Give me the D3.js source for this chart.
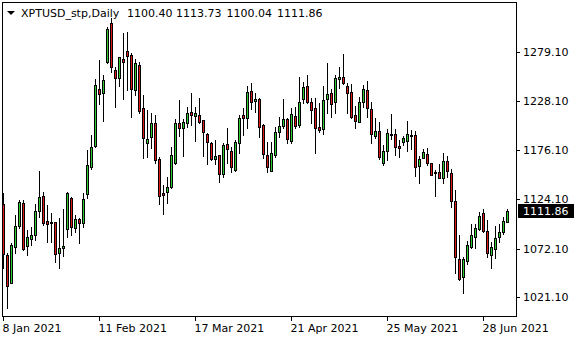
<!DOCTYPE html>
<html>
<head>
<meta charset="utf-8">
<script src="https://cdn.jsdelivr.net/npm/d3@7"></script>
<style>
    body { margin: 0; background: #ffffff; }
    svg { display: block; }
    text { font-family: "DejaVu Sans", sans-serif; font-size: 11px; }
</style>
</head>
<body>
<div id="chart"></div>
<script>
//*************************0. Data (XPTUSD daily, 8 Jan 2021 -> early Jul 2021)

const symbolTitle = "XPTUSD_stp,Daily"
const lastBarValues = ["1100.40", "1113.73", "1100.04", "1111.86"]
const lastPrice = 1111.86

const openPrices = [
    1119.37, 1065.66, 1036.53, 1074.44, 1096.20, 1120.77, 1075.14, 1082.86, 1086.37, 1112.00,
    1127.79, 1101.47, 1100.41, 1100.41, 1067.42, 1072.68, 1092.69, 1125.33, 1094.45, 1103.22,
    1099.01, 1129.55, 1157.98, 1180.44, 1240.11, 1235.90, 1268.89, 1309.61, 1260.47, 1251.69,
    1271.70, 1280.13, 1275.91, 1239.41, 1265.73, 1220.10, 1183.25, 1189.57, 1204.31, 1166.40,
    1130.60, 1132.35, 1137.62, 1162.19, 1204.31, 1199.04, 1204.31, 1215.89, 1212.38, 1213.08,
    1207.82, 1192.73, 1183.25, 1167.10, 1170.96, 1150.61, 1182.20, 1175.18, 1155.17, 1183.95,
    1213.08, 1209.57, 1238.36, 1228.18, 1229.58, 1202.55, 1170.96, 1154.47, 1170.96, 1194.83,
    1201.50, 1208.87, 1185.71, 1212.03, 1202.55, 1229.93, 1243.62, 1226.42, 1220.10, 1200.10,
    1197.99, 1229.58, 1235.90, 1227.12, 1250.64, 1252.75, 1243.62, 1236.95, 1213.08, 1206.06,
    1227.12, 1239.41, 1219.40, 1191.32, 1196.24, 1162.89, 1175.53, 1192.02, 1192.73, 1180.79,
    1184.30, 1186.06, 1192.02, 1191.67, 1159.73, 1168.16, 1172.02, 1162.19, 1152.71, 1152.71,
    1146.39, 1164.65, 1151.66, 1122.53, 1061.45, 1042.85, 1059.70, 1073.74, 1084.27, 1093.04,
    1109.54, 1090.94, 1065.66, 1071.63, 1084.27, 1089.53, 1100.40
]

const highPrices = [
    1130.60, 1067.42, 1077.95, 1107.78, 1123.58, 1123.58, 1091.99, 1095.50, 1119.37, 1154.12,
    1132.35, 1118.31, 1109.54, 1100.76, 1104.27, 1113.75, 1132.35, 1127.09, 1107.78, 1104.27,
    1130.60, 1176.23, 1192.02, 1250.99, 1271.00, 1255.20, 1306.10, 1314.87, 1263.98, 1274.51,
    1299.08, 1300.83, 1278.02, 1271.70, 1269.24, 1234.14, 1218.35, 1214.84, 1213.08, 1169.21,
    1139.37, 1148.15, 1179.74, 1208.52, 1228.88, 1208.52, 1221.16, 1235.90, 1221.16, 1230.63,
    1207.82, 1193.78, 1185.00, 1186.76, 1170.96, 1183.25, 1199.04, 1179.74, 1186.76, 1213.08,
    1220.10, 1243.62, 1246.43, 1235.90, 1230.63, 1203.61, 1185.00, 1185.00, 1200.80, 1210.63,
    1230.28, 1209.57, 1220.10, 1221.86, 1252.75, 1248.18, 1255.20, 1230.63, 1230.63, 1226.07,
    1243.62, 1268.19, 1240.11, 1255.20, 1263.98, 1277.32, 1246.43, 1245.73, 1222.56, 1231.69,
    1244.67, 1249.24, 1227.12, 1210.28, 1206.06, 1181.49, 1197.99, 1214.14, 1197.99, 1186.76,
    1190.97, 1207.12, 1197.29, 1196.24, 1169.91, 1177.63, 1177.98, 1162.19, 1155.17, 1161.14,
    1173.42, 1169.91, 1155.87, 1134.11, 1086.72, 1063.91, 1080.76, 1098.31, 1098.31, 1110.59,
    1114.10, 1102.52, 1079.70, 1096.55, 1098.31, 1105.33, 1113.73
]

const lowPrices = [
    1051.62, 1009.50, 1035.83, 1067.42, 1093.74, 1070.93, 1065.66, 1076.19, 1081.46, 1106.03,
    1097.25, 1079.70, 1079.70, 1058.64, 1051.62, 1064.61, 1084.27, 1086.72, 1090.23, 1077.95,
    1095.50, 1125.33, 1155.87, 1179.74, 1224.67, 1207.12, 1268.19, 1258.71, 1221.86, 1243.62,
    1229.58, 1239.41, 1210.63, 1234.14, 1214.84, 1167.45, 1169.21, 1177.98, 1162.19, 1119.37,
    1108.84, 1120.07, 1135.86, 1161.49, 1190.97, 1170.26, 1200.80, 1202.91, 1186.06, 1204.31,
    1170.26, 1161.49, 1165.70, 1161.14, 1142.88, 1148.15, 1162.19, 1153.41, 1154.47, 1173.42,
    1192.02, 1199.04, 1219.40, 1216.59, 1189.57, 1167.45, 1153.41, 1154.47, 1169.21, 1190.27,
    1199.75, 1183.95, 1183.95, 1199.04, 1200.80, 1225.37, 1225.37, 1205.01, 1173.42, 1195.53,
    1193.08, 1214.84, 1211.33, 1214.84, 1241.16, 1245.20, 1215.54, 1210.28, 1199.04, 1206.06,
    1221.16, 1211.33, 1183.95, 1188.51, 1166.40, 1160.43, 1165.70, 1187.46, 1170.96, 1168.51,
    1181.49, 1175.53, 1176.93, 1149.20, 1141.83, 1167.81, 1160.43, 1149.91, 1128.14, 1146.39,
    1141.13, 1147.45, 1116.56, 1047.06, 1039.50, 1026.00, 1056.19, 1072.68, 1072.68, 1091.99,
    1090.23, 1063.21, 1051.62, 1062.15, 1079.00, 1087.78, 1100.04
]

const closePrices = [
    1066.72, 1033.37, 1076.19, 1096.20, 1121.82, 1071.63, 1084.27, 1086.72, 1112.00, 1126.39,
    1099.01, 1097.96, 1099.01, 1066.37, 1072.68, 1075.14, 1130.60, 1095.50, 1103.22, 1099.01,
    1124.28, 1160.43, 1179.74, 1244.32, 1234.85, 1249.94, 1303.29, 1263.28, 1251.69, 1273.81,
    1268.54, 1275.56, 1240.11, 1267.49, 1217.30, 1188.51, 1187.46, 1204.31, 1165.70, 1128.14,
    1129.20, 1137.62, 1170.96, 1204.31, 1199.04, 1206.06, 1214.84, 1213.44, 1214.84, 1206.06,
    1195.53, 1185.00, 1167.10, 1169.91, 1150.61, 1181.49, 1176.93, 1157.98, 1184.30, 1209.57,
    1209.57, 1236.95, 1226.42, 1229.93, 1200.80, 1171.67, 1157.98, 1172.72, 1194.83, 1201.50,
    1208.87, 1187.46, 1213.79, 1201.85, 1226.42, 1242.92, 1227.12, 1218.35, 1199.04, 1197.29,
    1228.88, 1234.85, 1224.67, 1251.69, 1252.75, 1246.43, 1236.60, 1211.33, 1207.12, 1226.42,
    1240.46, 1220.10, 1192.73, 1196.24, 1169.21, 1175.18, 1193.78, 1193.08, 1179.74, 1178.69,
    1189.22, 1192.73, 1191.32, 1158.68, 1166.40, 1173.77, 1162.19, 1150.26, 1151.66, 1147.10,
    1164.65, 1154.47, 1122.88, 1063.91, 1040.04, 1061.45, 1076.19, 1086.72, 1093.74, 1106.73,
    1090.94, 1067.42, 1074.44, 1083.21, 1089.53, 1101.47, 1111.86
]

// date labels on the time axis and the bar each one sits on
const timeLabels = ["8 Jan 2021", "11 Feb 2021", "17 Mar 2021", "21 Apr 2021", "25 May 2021", "28 Jun 2021"]
const timeLabelBars = [0, 24, 48, 72, 96, 120]

// price scale labels
const priceTicks = [1021.10, 1072.10, 1124.10, 1176.10, 1228.10, 1279.10]

async function drawChart() {
    //*************************1. Dimensions

    const dimensions = {
        width: 580,
        height: 340,
        plot: { left: 2, top: 2, right: 516, bottom: 316 }
    }

    //*************************2. Wrapper

    const wrapper = d3.select("#chart")
        .append("svg")
        .attr("width", dimensions.width)
        .attr("height", dimensions.height)

    //*************************3. Build bars + scales

    const bars = openPrices.map((o, i) => ({
        i,
        open: o,
        high: highPrices[i],
        low: lowPrices[i],
        close: closePrices[i]
    }))

    const xScale = d3.scaleLinear()
        .domain([0, bars.length - 1])
        .range([3.5, 3.5 + 4 * (bars.length - 1)])

    const yScale = d3.scaleLinear()
        .domain([1021.10, 1279.10])
        .range([297.3, 52.3])

    const py = v => Math.round(yScale(v)) + 0.5

    //*************************4. Candles

    const candles = wrapper.append("g")
        .attr("shape-rendering", "crispEdges")
        .selectAll("g")
        .data(bars)
        .join("g")

    candles.append("line")
        .attr("x1", d => xScale(d.i))
        .attr("x2", d => xScale(d.i))
        .attr("y1", d => py(d.high) - 0.5)
        .attr("y2", d => py(d.low) + 0.5)
        .attr("stroke", "#000")
        .attr("stroke-width", 1)

    candles.append("rect")
        .attr("x", d => xScale(d.i) - 1)
        .attr("width", 2)
        .attr("y", d => py(Math.max(d.open, d.close)))
        .attr("height", d => Math.max(1, py(Math.min(d.open, d.close)) - py(Math.max(d.open, d.close))))
        .attr("fill", d => d.close >= d.open ? "#2fcc2f" : "#dc1a1a")
        .attr("stroke", "#000")
        .attr("stroke-width", 1)

    //*************************5. Frame

    const p = dimensions.plot
    wrapper.append("rect")
        .attr("x", p.left + 0.5)
        .attr("y", p.top + 0.5)
        .attr("width", p.right - p.left)
        .attr("height", p.bottom - p.top)
        .attr("fill", "none")
        .attr("stroke", "#000")
        .attr("shape-rendering", "crispEdges")

    //*************************6. Price axis (right)

    const priceAxis = wrapper.append("g")
    priceAxis.selectAll("line")
        .data(priceTicks)
        .join("line")
        .attr("x1", p.right + 0.5)
        .attr("x2", p.right + 4)
        .attr("y1", d => py(d))
        .attr("y2", d => py(d))
        .attr("stroke", "#000")
        .attr("shape-rendering", "crispEdges")

    priceAxis.selectAll("text")
        .data(priceTicks)
        .join("text")
        .attr("x", 523)
        .attr("y", d => yScale(d))
        .attr("dy", "0.36em")
        .attr("fill", "#000")
        .text(d => d3.format(".2f")(d))

    // current price marker
    const lastY = yScale(lastPrice)
    wrapper.append("rect")
        .attr("x", 518)
        .attr("y", Math.round(lastY) - 7)
        .attr("width", 56)
        .attr("height", 14)
        .attr("fill", "#000")
    wrapper.append("text")
        .attr("x", 523)
        .attr("y", lastY)
        .attr("dy", "0.36em")
        .attr("fill", "#fff")
        .text(d3.format(".2f")(lastPrice))

    //*************************7. Time axis (bottom)

    const timeAxis = wrapper.append("g")
    timeAxis.selectAll("line")
        .data(timeLabelBars)
        .join("line")
        .attr("x1", d => xScale(d))
        .attr("x2", d => xScale(d))
        .attr("y1", p.bottom + 0.5)
        .attr("y2", p.bottom + 5)
        .attr("stroke", "#000")
        .attr("shape-rendering", "crispEdges")

    timeAxis.selectAll("text")
        .data(timeLabels)
        .join("text")
        .attr("x", (d, k) => xScale(timeLabelBars[k]) - 1)
        .attr("y", 332)
        .attr("fill", "#000")
        .text(d => d)

    //*************************8. Title

    wrapper.append("path")
        .attr("d", "M7,11 L15,11 L11,15 Z")
        .attr("fill", "#000")
    wrapper.append("text")
        .attr("x", 21)
        .attr("y", 16.5)
        .attr("fill", "#000")
        .text(symbolTitle)

    const valueX = [127, 176, 226.5, 277]
    wrapper.append("g")
        .selectAll("text")
        .data(lastBarValues)
        .join("text")
        .attr("x", (d, k) => valueX[k])
        .attr("y", 16.5)
        .attr("fill", "#000")
        .text(d => d)
}

drawChart()
</script>
</body>
</html>
